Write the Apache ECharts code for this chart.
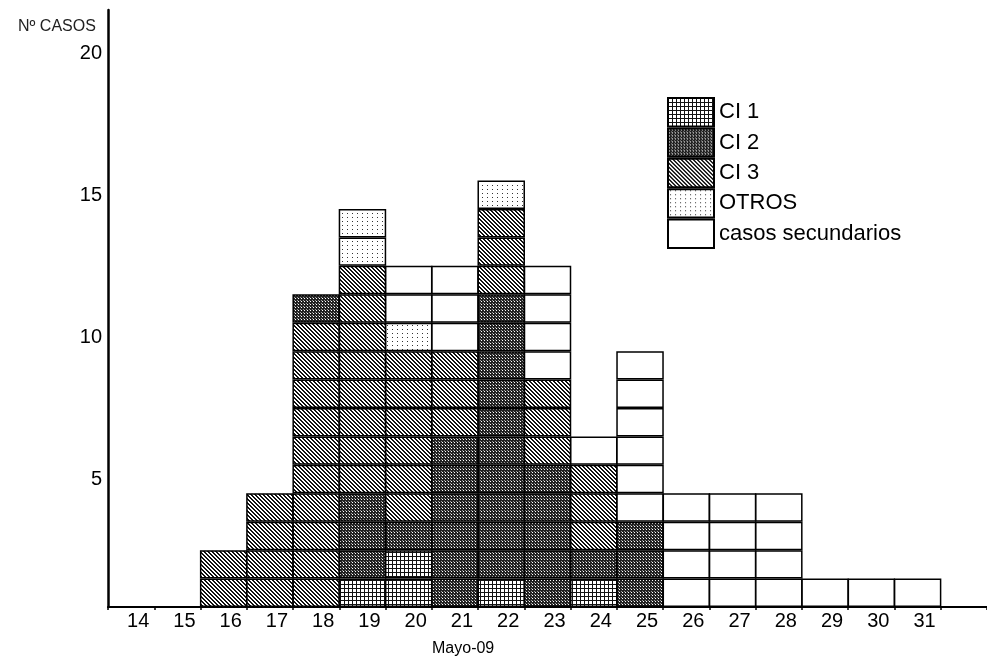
<!DOCTYPE html>
<html>
<head>
<meta charset="utf-8">
<script src="https://cdn.jsdelivr.net/npm/echarts@6/dist/echarts.min.js"></script>
<style>html,body{margin:0;padding:0;background:#fff}#c{width:987px;height:658px}</style>
</head>
<body>
<div id="c"></div>
<script>
// ---- data (cells per day) ----
const days  = ['14','15','16','17','18','19','20','21','22','23','24','25','26','27','28','29','30','31'];
const types = ['CI 1','CI 2','CI 3','OTROS','casos secundarios'];
const ci1   = [0,0,0,0,0,1,2,0,1,0,1,0,0,0,0,0,0,0];
const ci2   = [0,0,0,0,1,3,1,6,10,5,1,3,0,0,0,0,0,0];
const ci3   = [0,0,2,4,10,8,6,3,3,3,3,0,0,0,0,0,0,0];
const otros = [0,0,0,0,0,2,1,0,1,0,0,0,0,0,0,0,0,0];
const sec   = [0,0,0,0,0,0,2,3,0,4,1,6,4,4,4,1,1,1];
const yTicks = [5,10,15,20];
// stacking order bottom->top (day 18 has its CI 2 case on top)
const orderOverride = {'18': ['CI 1','CI 3','CI 2','OTROS','casos secundarios']};

// ---- patterns ----
function makePattern(w, h, draw) {
  const c = document.createElement('canvas');
  c.width = w; c.height = h;
  const ctx = c.getContext('2d');
  ctx.fillStyle = '#fff'; ctx.fillRect(0, 0, w, h);
  draw(ctx, w, h);
  return { image: c, repeat: 'repeat' };
}
const pat = {
  'CI 1': makePattern(4, 4, (ctx) => { ctx.fillStyle = '#111'; ctx.fillRect(0,0,4,1); ctx.fillRect(0,0,1,4); }),
  'CI 2': makePattern(3, 3, (ctx) => { ctx.fillStyle = '#222'; ctx.fillRect(0,0,3,3); ctx.fillStyle = '#fff'; ctx.fillRect(1,1,1,1); ctx.fillStyle = '#999'; ctx.fillRect(0,0,1,1); }),
  'CI 3': makePattern(4, 4, (ctx) => { ctx.fillStyle = '#111'; for (let y=0;y<4;y++) for (let x=0;x<4;x++) { if ((((x - y) % 4) + 4) % 4 < 2) ctx.fillRect(x,y,1,1); } }),
  'OTROS': makePattern(5, 4, (ctx) => { ctx.fillStyle = '#333'; ctx.fillRect(2,1,1,1); }),
  'casos secundarios': '#ffffff'
};

// ---- build cell sequences ----
const counts = {'CI 1': ci1, 'CI 2': ci2, 'CI 3': ci3, 'OTROS': otros, 'casos secundarios': sec};
const seqs = days.map((d, i) => {
  const order = orderOverride[d] || types;
  const s = [];
  order.forEach(t => { for (let k = 0; k < counts[t][i]; k++) s.push(t); });
  return s;
});
const maxLevel = Math.max(...seqs.map(s => s.length));
const xCats = days.concat(['']);

const series = [];
types.forEach(t => series.push({
  name: t, type: 'bar', stack: 'cells', data: [], barWidth: 47.5,
  itemStyle: { color: pat[t], borderColor: '#000', borderWidth: 2 }
}));
for (let lv = 0; lv < maxLevel; lv++) {
  series.push({
    name: 'lv' + lv, type: 'bar', stack: 'cells', barWidth: 47.5, silent: true,
    itemStyle: { borderColor: '#000', borderWidth: 1.5 },
    data: xCats.map((_, i) => {
      const s = seqs[i];
      if (!s || !s[lv]) return '-';
      return { value: 1, itemStyle: { color: pat[s[lv]] } };
    })
  });
}

const chart = echarts.init(document.getElementById('c'), null, { renderer: 'canvas' });
chart.setOption({
  animation: false,
  backgroundColor: '#fff',
  textStyle: { fontFamily: 'Liberation Sans' },
  title: [
    { text: 'Nº CASOS', left: 13, top: 14, textStyle: { fontSize: 16, fontWeight: 'normal', color: '#222', fontFamily: 'Liberation Sans' } },
    { text: 'Mayo-09', left: 427, top: 636, textStyle: { fontSize: 16, fontWeight: 'normal', color: '#000', fontFamily: 'Liberation Sans' } }
  ],
  legend: {
    data: types, orient: 'vertical', left: 667, top: 97, padding: 0,
    itemWidth: 46, itemHeight: 28.4, itemGap: 0, selectedMode: false,
    icon: 'rect',
    itemStyle: { borderColor: '#000', borderWidth: 2 },
    textStyle: { fontSize: 22, color: '#000', fontFamily: 'Liberation Sans' }
  },
  grid: { left: 108, top: 10, width: 884.5, bottom: 51, containLabel: false },
  xAxis: {
    type: 'category', data: xCats, boundaryGap: true,
    axisLine: { lineStyle: { color: '#000', width: 2 } },
    axisTick: { show: true, length: 3, lineStyle: { color: '#000', width: 1.5 } },
    axisLabel: { fontSize: 20, color: '#000', margin: 4, padding: [0, 0, 0, 14], interval: 0, fontFamily: 'Liberation Sans' },
    splitLine: { show: false }
  },
  yAxis: {
    type: 'value', min: 0, max: 21, interval: 5,
    axisLine: { show: true, lineStyle: { color: '#000', width: 2.5 } },
    axisTick: { show: false },
    splitLine: { show: false },
    axisLabel: {
      fontSize: 20, color: '#000', margin: 6, verticalAlign: 'top', padding: [5, 0, 0, 0], fontFamily: 'Liberation Sans',
      formatter: v => (yTicks.indexOf(v) >= 0 ? String(v) : '')
    }
  },
  series: series
});
</script>
</body>
</html>
